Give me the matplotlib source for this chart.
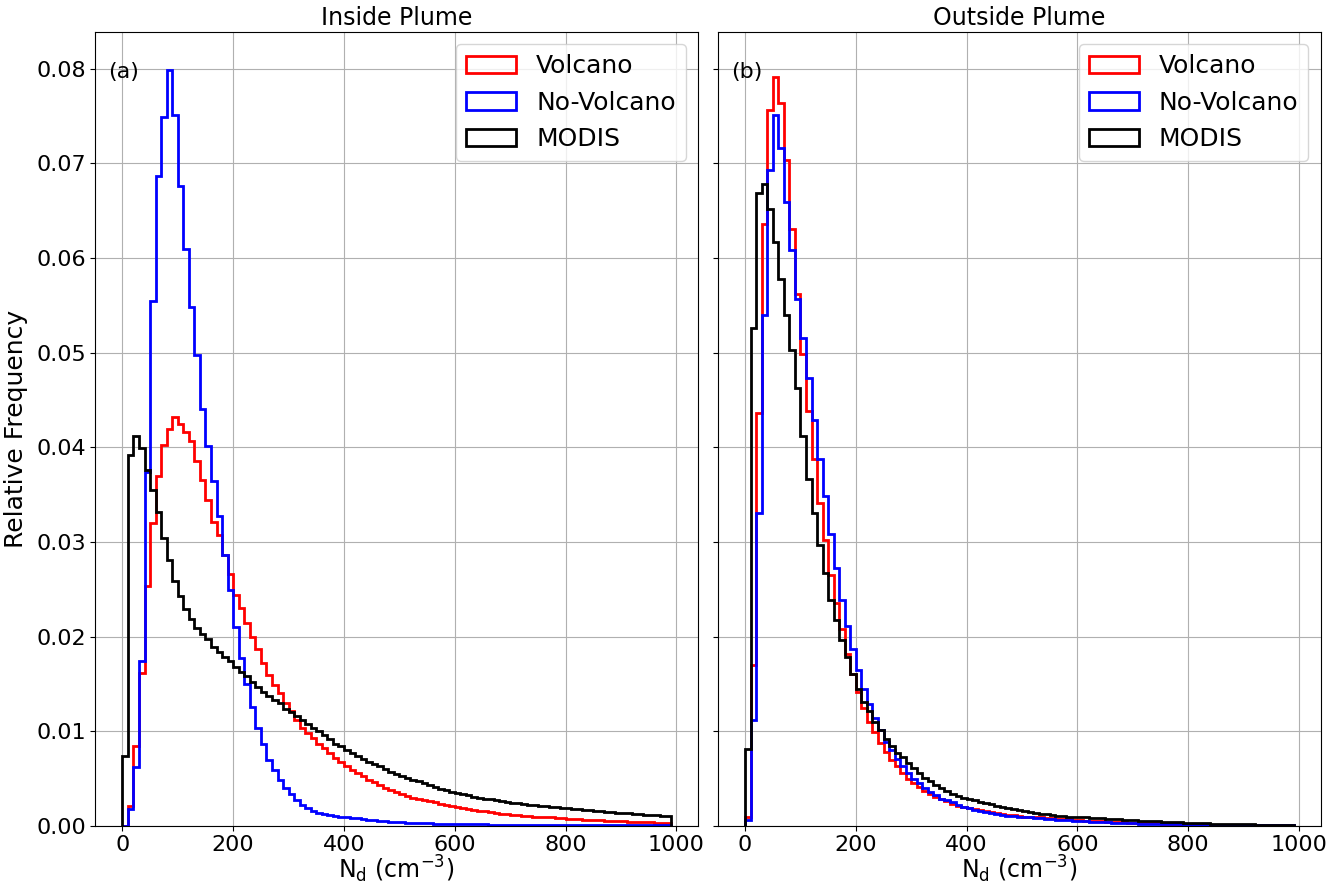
import numpy as np
import matplotlib
matplotlib.use('Agg')
import matplotlib.pyplot as plt

# bin edges, 10 cm-3 wide, 0..990
edges = np.arange(0, 1000, 10)

#===============================================================================
###  Inside plume (relative frequency per bin)
#===============================================================================
in_volcano = [
    0.0000, 0.0021, 0.0084, 0.0162, 0.0253, 0.0320, 0.0370, 0.0402, 0.0419, 0.0432,
    0.0425, 0.0416, 0.0407, 0.0385, 0.0365, 0.0344, 0.0321, 0.0307, 0.0286, 0.0266,
    0.0244, 0.0230, 0.0214, 0.0200, 0.0187, 0.0172, 0.0159, 0.0149, 0.0140, 0.0130,
    0.0121, 0.0112, 0.0104, 0.0098, 0.0093, 0.0087, 0.0082, 0.0077, 0.0072, 0.0068,
    0.0063, 0.0059, 0.0056, 0.0053, 0.0049, 0.0046, 0.0043, 0.0040, 0.0038, 0.0036,
    0.0034, 0.0032, 0.0030, 0.0029, 0.0027, 0.0026, 0.0025, 0.0023, 0.0022, 0.0021,
    0.0020, 0.0019, 0.0018, 0.0017, 0.0016, 0.0016, 0.0015, 0.0014, 0.0013, 0.0013,
    0.0012, 0.0012, 0.0011, 0.0011, 0.0010, 0.0010, 0.0009, 0.0009, 0.0008, 0.0008,
    0.0007, 0.0007, 0.0007, 0.0006, 0.0006, 0.0006, 0.0006, 0.0005, 0.0005, 0.0005,
    0.0005, 0.0004, 0.0004, 0.0004, 0.0004, 0.0004, 0.0003, 0.0003, 0.0003]
in_novolcano = [
    0.0000, 0.0018, 0.0062, 0.0174, 0.0374, 0.0555, 0.0687, 0.0749, 0.0799, 0.0751,
    0.0676, 0.0609, 0.0548, 0.0497, 0.0440, 0.0401, 0.0364, 0.0327, 0.0286, 0.0249,
    0.0210, 0.0177, 0.0150, 0.0126, 0.0104, 0.0087, 0.0070, 0.0059, 0.0049, 0.0040,
    0.0034, 0.0027, 0.0022, 0.0019, 0.0016, 0.0014, 0.0013, 0.0012, 0.0011, 0.0010,
    0.0009, 0.0008, 0.0008, 0.0007, 0.0006, 0.0006, 0.0005, 0.0005, 0.0004, 0.0004,
    0.0004, 0.0003, 0.0003, 0.0003, 0.0003, 0.0003, 0.0002, 0.0002, 0.0002, 0.0002,
    0.0002, 0.0002, 0.0002, 0.0002, 0.0002, 0.0002, 0.0001, 0.0001, 0.0001, 0.0001,
    0.0001, 0.0001, 0.0001, 0.0001, 0.0001, 0.0001, 0.0001, 0.0001, 0.0001, 0.0001,
    0.0001, 0.0001, 0.0001, 0.0001, 0.0001, 0.0001, 0.0001, 0.0001, 0.0001, 0.0001,
    0.0001, 0.0001, 0.0001, 0.0001, 0.0001, 0.0001, 0.0001, 0.0001, 0.0001]
in_modis = [
    0.0074, 0.0392, 0.0412, 0.0399, 0.0376, 0.0355, 0.0332, 0.0304, 0.0281, 0.0259,
    0.0243, 0.0229, 0.0219, 0.0209, 0.0203, 0.0197, 0.0189, 0.0184, 0.0178, 0.0174,
    0.0168, 0.0163, 0.0158, 0.0152, 0.0147, 0.0142, 0.0137, 0.0133, 0.0130, 0.0124,
    0.0120, 0.0116, 0.0112, 0.0108, 0.0104, 0.0100, 0.0096, 0.0092, 0.0087, 0.0084,
    0.0080, 0.0077, 0.0074, 0.0071, 0.0068, 0.0065, 0.0063, 0.0060, 0.0057, 0.0055,
    0.0053, 0.0051, 0.0049, 0.0047, 0.0045, 0.0043, 0.0041, 0.0039, 0.0038, 0.0036,
    0.0035, 0.0034, 0.0033, 0.0031, 0.0030, 0.0029, 0.0028, 0.0027, 0.0026, 0.0025,
    0.0024, 0.0024, 0.0023, 0.0022, 0.0022, 0.0021, 0.0021, 0.0020, 0.0020, 0.0019,
    0.0019, 0.0018, 0.0018, 0.0017, 0.0017, 0.0016, 0.0016, 0.0015, 0.0015, 0.0014,
    0.0014, 0.0014, 0.0013, 0.0013, 0.0012, 0.0012, 0.0012, 0.0011, 0.0011]

#===============================================================================
###  Outside plume
#===============================================================================
out_volcano = [
    0.0010, 0.0170, 0.0436, 0.0636, 0.0756, 0.0791, 0.0764, 0.0703, 0.0631, 0.0562,
    0.0499, 0.0438, 0.0388, 0.0341, 0.0302, 0.0265, 0.0235, 0.0208, 0.0182, 0.0161,
    0.0142, 0.0125, 0.0110, 0.0099, 0.0088, 0.0078, 0.0070, 0.0063, 0.0056, 0.0050,
    0.0045, 0.0041, 0.0037, 0.0034, 0.0031, 0.0028, 0.0026, 0.0023, 0.0021, 0.0020,
    0.0019, 0.0018, 0.0017, 0.0016, 0.0015, 0.0014, 0.0013, 0.0012, 0.0012, 0.0011,
    0.0010, 0.0010, 0.0009, 0.0009, 0.0008, 0.0008, 0.0007, 0.0007, 0.0007, 0.0006,
    0.0006, 0.0005, 0.0005, 0.0005, 0.0005, 0.0004, 0.0004, 0.0004, 0.0004, 0.0003,
    0.0003, 0.0003, 0.0003, 0.0003, 0.0003, 0.0002, 0.0002, 0.0002, 0.0002, 0.0002,
    0.0002, 0.0002, 0.0002, 0.0001, 0.0001, 0.0001, 0.0001, 0.0001, 0.0001, 0.0001,
    0.0001, 0.0001, 0.0001, 0.0001, 0.0001, 0.0001, 0.0001, 0.0001, 0.0001]
out_novolcano = [
    0.0006, 0.0112, 0.0331, 0.0540, 0.0693, 0.0751, 0.0716, 0.0659, 0.0608, 0.0557,
    0.0515, 0.0473, 0.0429, 0.0388, 0.0348, 0.0308, 0.0273, 0.0239, 0.0211, 0.0187,
    0.0165, 0.0145, 0.0129, 0.0114, 0.0101, 0.0089, 0.0080, 0.0071, 0.0063, 0.0056,
    0.0050, 0.0045, 0.0040, 0.0036, 0.0033, 0.0029, 0.0027, 0.0025, 0.0022, 0.0020,
    0.0019, 0.0017, 0.0016, 0.0015, 0.0014, 0.0013, 0.0012, 0.0011, 0.0011, 0.0010,
    0.0009, 0.0009, 0.0008, 0.0008, 0.0007, 0.0007, 0.0006, 0.0006, 0.0006, 0.0005,
    0.0005, 0.0005, 0.0004, 0.0004, 0.0004, 0.0004, 0.0003, 0.0003, 0.0003, 0.0003,
    0.0003, 0.0002, 0.0002, 0.0002, 0.0002, 0.0002, 0.0002, 0.0002, 0.0002, 0.0001,
    0.0001, 0.0001, 0.0001, 0.0001, 0.0001, 0.0001, 0.0001, 0.0001, 0.0001, 0.0001,
    0.0001, 0.0001, 0.0001, 0.0001, 0.0001, 0.0001, 0.0001, 0.0001, 0.0001]
out_modis = [
    0.0081, 0.0526, 0.0669, 0.0678, 0.0652, 0.0617, 0.0578, 0.0540, 0.0503, 0.0463,
    0.0412, 0.0367, 0.0331, 0.0297, 0.0267, 0.0239, 0.0218, 0.0196, 0.0178, 0.0161,
    0.0145, 0.0131, 0.0121, 0.0110, 0.0101, 0.0092, 0.0084, 0.0077, 0.0073, 0.0067,
    0.0061, 0.0056, 0.0051, 0.0047, 0.0043, 0.0040, 0.0037, 0.0034, 0.0032, 0.0030,
    0.0028, 0.0027, 0.0025, 0.0024, 0.0023, 0.0021, 0.0020, 0.0019, 0.0018, 0.0017,
    0.0016, 0.0015, 0.0014, 0.0013, 0.0013, 0.0012, 0.0011, 0.0011, 0.0010, 0.0010,
    0.0009, 0.0009, 0.0008, 0.0008, 0.0008, 0.0007, 0.0007, 0.0007, 0.0006, 0.0006,
    0.0006, 0.0005, 0.0005, 0.0005, 0.0005, 0.0004, 0.0004, 0.0004, 0.0004, 0.0003,
    0.0003, 0.0003, 0.0003, 0.0003, 0.0002, 0.0002, 0.0002, 0.0002, 0.0002, 0.0002,
    0.0002, 0.0002, 0.0001, 0.0001, 0.0001, 0.0001, 0.0001, 0.0001, 0.0001]

series_names = ['Volcano', 'No-Volcano', 'MODIS']
series_colors = ['red', 'blue', 'black']
panel_titles = ['Inside Plume', 'Outside Plume']
panel_tags = ['(a)', '(b)']

#===============================================================================
###  Plot
#===============================================================================
fig, axes = plt.subplots(1, 2, sharey=True, figsize=(13.43, 8.85), dpi=100)
fig.subplots_adjust(left=0.0707, right=0.9836, bottom=0.0667, top=0.9642, wspace=0.032)

panels = [[in_volcano, in_novolcano, in_modis],
          [out_volcano, out_novolcano, out_modis]]

for ax, data, title, tag in zip(axes, panels, panel_titles, panel_tags):
    for vals, name, col in zip(data, series_names, series_colors):
        ax.hist(edges[:-1], bins=edges, weights=vals, histtype='step',
                color=col, lw=2, label=name)
    ax.grid(True)
    ax.set_axisbelow(True)
    ax.set_title(title, fontsize=17, pad=5)
    ax.set_xlabel(r'N$_{\rm d}$ (cm$^{-3}$)', fontsize=17, labelpad=-1)
    ax.tick_params(labelsize=16, pad=3)
    ax.text(0.022, 0.962, tag, transform=ax.transAxes, fontsize=16, va='top')
    ax.legend(loc='upper right', fontsize=18)

axes[0].set_ylabel('Relative Frequency', fontsize=18, labelpad=6)

plt.savefig('out.png')
